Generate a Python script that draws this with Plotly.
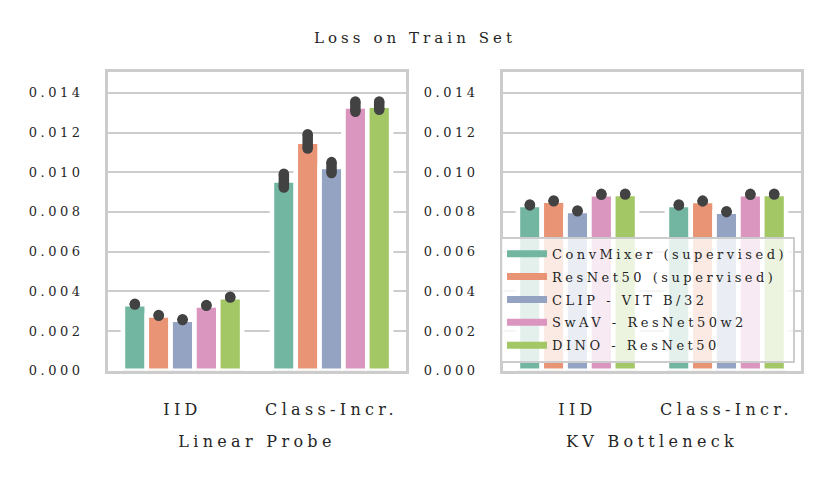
import plotly.graph_objects as go

# ---------------- data ----------------
categories = ["IID", "Class-Incr."]
models = ["ConvMixer (supervised)", "ResNet50 (supervised)", "CLIP - VIT B/32",
          "SwAV - ResNet50w2", "DINO - ResNet50"]
colors = ["#72b6a1", "#e99575", "#95a3c3", "#db96c0", "#a2c764"]

# Linear Probe panel (mean loss, CI low, CI high) per model
linear_iid_mean = [0.00335, 0.00279, 0.00257, 0.00329, 0.00371]
linear_iid_lo = [0.00333, 0.00277, 0.00255, 0.00327, 0.00369]
linear_iid_hi = [0.00337, 0.00281, 0.00259, 0.00331, 0.00373]
linear_incr_mean = [0.00959, 0.01154, 0.01027, 0.01332, 0.01335]
linear_incr_lo = [0.00923, 0.01119, 0.00996, 0.01305, 0.01315]
linear_incr_hi = [0.00993, 0.01191, 0.01051, 0.01357, 0.01357]

# KV Bottleneck panel
kv_iid_mean = [0.00835, 0.00856, 0.00805, 0.00889, 0.00890]
kv_iid_lo = [0.00833, 0.00854, 0.00803, 0.00887, 0.00888]
kv_iid_hi = [0.00837, 0.00858, 0.00807, 0.00891, 0.00892]
kv_incr_mean = [0.00835, 0.00855, 0.00801, 0.00889, 0.00890]
kv_incr_lo = [0.00833, 0.00853, 0.00799, 0.00887, 0.00888]
kv_incr_hi = [0.00837, 0.00857, 0.00803, 0.00891, 0.00892]

y_ticks = [0.000, 0.002, 0.004, 0.006, 0.008, 0.010, 0.012, 0.014]
panel_titles = ["Linear Probe", "KV Bottleneck"]

panels = [
    (linear_iid_mean, linear_iid_lo, linear_iid_hi, linear_incr_mean, linear_incr_lo, linear_incr_hi),
    (kv_iid_mean, kv_iid_lo, kv_iid_hi, kv_incr_mean, kv_incr_lo, kv_incr_hi),
]

FONT = "DejaVu Serif"
TXT = "#262626"
GRID = "#cccccc"
ERR = "#424242"
BAR_W = 0.16

fig = go.Figure()

for p, (im, ilo, ihi, cm, clo, chi) in enumerate(panels):
    xa = "x" if p == 0 else "x2"
    ya = "y" if p == 0 else "y2"
    for j, model in enumerate(models):
        xs = [ci + (j - 2) * BAR_W for ci in range(len(categories))]
        fig.add_trace(go.Bar(
            x=xs, y=[im[j], cm[j]], width=BAR_W,
            marker=dict(color=colors[j], line=dict(color="white", width=4.6)),
            xaxis=xa, yaxis=ya, showlegend=False, hoverinfo="skip"))
    for j, model in enumerate(models):
        xs = [ci + (j - 2) * BAR_W for ci in range(len(categories))]
        for k, (lo, hi) in enumerate([(ilo[j], ihi[j]), (clo[j], chi[j])]):
            fig.add_trace(go.Scatter(
                x=[xs[k], xs[k]], y=[lo, hi], mode="lines+markers",
                line=dict(color=ERR, width=10.5),
                marker=dict(color=ERR, size=10.5, line=dict(width=0)),
                xaxis=xa, yaxis=ya, showlegend=False, hoverinfo="skip"))

# legend entries (patch-like)
for j, model in enumerate(models):
    fig.add_trace(go.Scatter(
        x=[None], y=[None], mode="lines", name=model,
        line=dict(color=colors[j], width=7),
        legendgroup=model, xaxis="x2", yaxis="y2"))

xaxis_common = dict(
    range=[-0.5, 1.5], tickvals=list(range(len(categories))), ticktext=categories,
    showgrid=False, zeroline=False, showline=True, mirror=True,
    linecolor=GRID, linewidth=2.7, ticks="", automargin=False,
    tickfont=dict(family=FONT, size=16, color=TXT), ticklabelstandoff=22,
)
yaxis_common = dict(
    range=[0, 0.01505], tickvals=y_ticks, tickformat=".3f",
    showgrid=True, gridcolor=GRID, gridwidth=2, zeroline=False,
    showline=True, mirror=True, linecolor=GRID, linewidth=2.7, ticks="",
    automargin=False,
    tickfont=dict(family=FONT, size=13, color=TXT), ticklabelstandoff=19,
    domain=[0.2293, 0.8503],
)

fig.update_layout(
    width=831, height=481,
    margin=dict(l=0, r=0, t=0, b=0, autoexpand=False),
    paper_bgcolor="white", plot_bgcolor="white",
    barmode="overlay",
    font=dict(family=FONT, color=TXT),
    title=dict(text="Loss on Train Set", x=0.4994, xanchor="center",
               y=1 - 38 / 481, yanchor="middle", automargin=False,
               font=dict(family=FONT, size=15, color=TXT)),
    xaxis=dict(domain=[0.1300, 0.4886], anchor="y",
               title=dict(text=panel_titles[0], font=dict(family=FONT, size=16, color=TXT), standoff=19),
               **xaxis_common),
    xaxis2=dict(domain=[0.6053, 0.9639], anchor="y2",
                title=dict(text=panel_titles[1], font=dict(family=FONT, size=16, color=TXT), standoff=19),
                **xaxis_common),
    yaxis=dict(anchor="x", **yaxis_common),
    yaxis2=dict(anchor="x2", **yaxis_common),
    legend=dict(x=795 / 831, xanchor="right", y=(481 - 362.7) / 481, yanchor="bottom",
                bgcolor="rgba(255,255,255,0.8)", bordercolor=GRID, borderwidth=2,
                font=dict(family=FONT, size=13.01, color=TXT),
                itemwidth=40, tracegroupgap=3),
    showlegend=True,
)

post = """
document.body.style.margin = '0';
document.body.style.padding = '0';
var gd = document.getElementById('{plot_id}');
var st = document.createElement('style');
st.textContent = 'svg text { letter-spacing: 0.27em; }';
document.head.appendChild(st);
Plotly.relayout(gd, {'legend.font.size': 13});
"""

fig.write_html("out.html", post_script=post, config={"displayModeBar": False})
